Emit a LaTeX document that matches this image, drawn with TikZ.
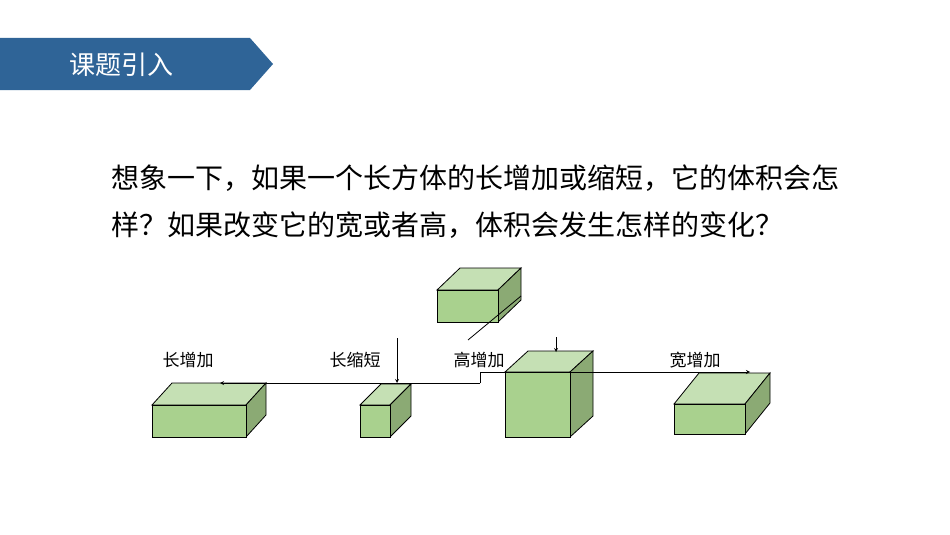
\documentclass[tikz,border=0pt]{standalone}
\usepackage{fontspec}
\newfontfamily\cjk{Noto Sans CJK SC}
\definecolor{fr}{HTML}{A9D18E}
\definecolor{tp}{HTML}{C5E0B4}
\definecolor{rt}{HTML}{8BAA74}
\definecolor{ban}{HTML}{2F6497}
\newcommand{\cuboid}[6]{% x1 y1 x2 y2 dx dy
 \fill[tp,draw=black,line width=0.8pt] (#1,#2)--(#1+#5,#2-#6)--(#3+#5,#2-#6)--(#3,#2)--cycle;
 \fill[rt,draw=black,line width=0.8pt] (#3,#2)--(#3+#5,#2-#6)--(#3+#5,#4-#6)--(#3,#4)--cycle;
 \fill[fr,draw=black,line width=0.8pt] (#1,#2) rectangle (#3,#4);}
\begin{document}
\begin{tikzpicture}[x=1pt,y=-1pt,lbl/.style={font=\cjk\fontsize{17}{17}\selectfont,inner sep=0pt}]
\useasboundingbox (0,0) rectangle (950,535);
\fill[ban] (0,38)--(250,38)--(273,64)--(250,90)--(0,90)--cycle;
\node[text=white,font=\cjk\fontsize{26}{26}\selectfont,anchor=west] (title) at (66,65) {课题引入};
\node[font=\cjk\fontsize{28}{28}\selectfont,anchor=west,inner sep=0pt] (l1) at (111,178) {想象一下，如果一个长方体的长增加或缩短，它的体积会怎};
\node[font=\cjk\fontsize{28}{28}\selectfont,anchor=west,inner sep=0pt] (l2) at (111,225) {样？如果改变它的宽或者高，体积会发生怎样的变化？};
\cuboid{437}{290}{498}{322}{23}{22}
\draw[line width=0.8pt] (468,340)--(521,296);
\cuboid{152}{405}{246}{437}{20}{22}
\cuboid{360}{405}{390}{437}{21}{21}
\cuboid{505}{372}{570}{437}{23}{21}
\cuboid{674}{404}{745}{434}{25}{31}
\node[lbl] (a) at (188,360) {长增加};
\node[lbl] (b) at (355,360) {长缩短};
\node[lbl] (c) at (479,360) {高增加};
\node[lbl] (d) at (695,360) {宽增加};
\coordinate (s1) at (220,383); \coordinate (s2) at (480,383);
\coordinate (s3) at (480,372); \coordinate (s4) at (750,372);
\draw[-stealth,line width=0.8pt] (s2)--(s1);
\draw[-stealth,line width=0.8pt] (s2)--(s3)--(s4);
\coordinate (v1) at (397,338); \coordinate (v2) at (397,383);
\draw[-stealth,line width=0.8pt] (v1)--(v2);
\coordinate (w1) at (556,337); \coordinate (w2) at (556,352);
\draw[-stealth,line width=0.8pt] (w1)--(w2);
\end{tikzpicture}
\end{document}
